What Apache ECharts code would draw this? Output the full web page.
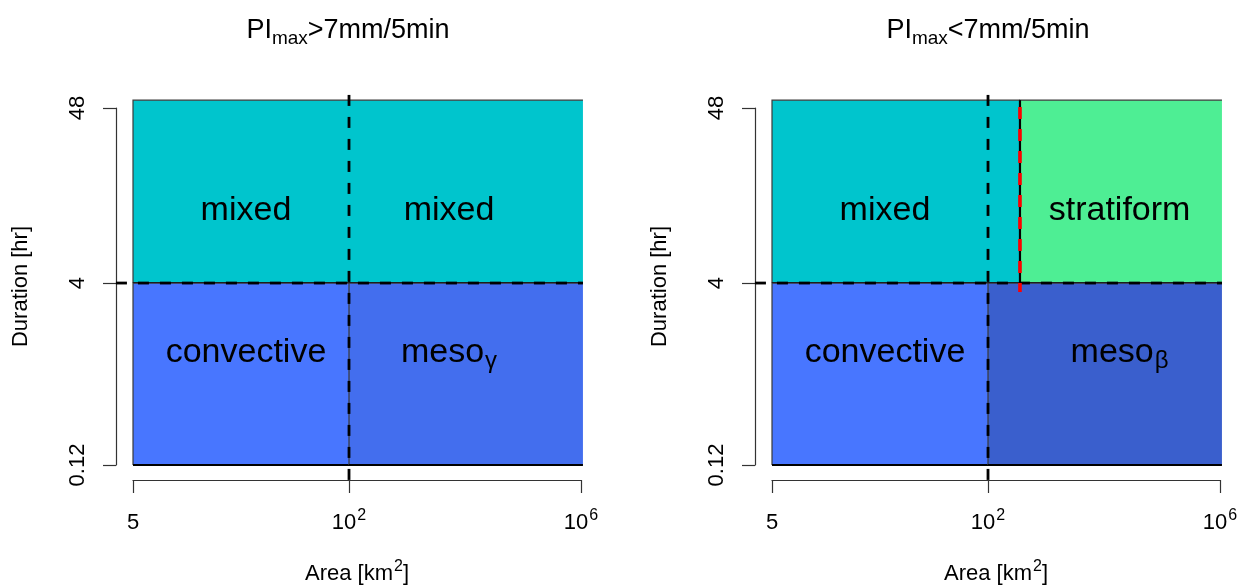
<!DOCTYPE html>
<html>
<head>
<meta charset="utf-8">
<script src="https://cdn.jsdelivr.net/npm/echarts@6/dist/echarts.min.js"></script>
<style>
  html, body { margin: 0; padding: 0; background: #ffffff; }
  #chart { width: 1242px; height: 588px; }
</style>
</head>
<body>
<div id="chart"></div>
<script>
// ---- scales: tick values on the index-like area and duration axes ----
const xTickValues = [0, 1, 2.074];
const xTickLabels = ['5', '10^2', '10^6'];
const yTickValues = [0, 1, 1.962];
const yTickLabels = ['0.12', '4', '48'];

// plot region (axis units) that the reference lines span
const usrX = [-0.079, 2.083];
const usrY = [-0.082, 2.077];

// class boxes: [class, x0, x1, y0, y1]
const boxesHigh = [
  ['mixed', 0, 2.083, 1, 2.005],
  ['convective', 0, 1, 0, 1],
  ['mesoGamma', 1, 2.083, 0, 1]
];
const boxesLow = [
  ['mixed', 0, 1.148, 1, 2.005],
  ['stratiform', 1.148, 2.083, 1, 2.005],
  ['convective', 0, 1, 0, 1],
  ['mesoBeta', 1, 2.083, 0, 1]
];

// class names: [main text, subscript, x, y]
const labelsHigh = [
  ['mixed', '', 0.523, 1.40],
  ['mixed', '', 1.463, 1.40],
  ['convective', '', 0.523, 0.615],
  ['meso', 'γ', 1.463, 0.615]
];
const labelsLow = [
  ['mixed', '', 0.523, 1.40],
  ['stratiform', '', 1.609, 1.40],
  ['convective', '', 0.523, 0.615],
  ['meso', 'β', 1.609, 0.615]
];

// thresholds: area 10^2 km2 and duration 4 h
const areaThreshold = 1;
const durationThreshold = 1;
// extra area split for the low-intensity panel: [x, y from, y to]
const stratiformSplit = [1.148, 0.951, 2.022];

// panel titles: [before, subscript, after]
const titles = [['PI', 'max', '>7mm/5min'], ['PI', 'max', '<7mm/5min']];

// ---- styling ----
const FONT = '"Liberation Sans", Arial, Helvetica, sans-serif';
const classColors = {
  mixed: '#00C5CD',
  convective: '#4876FF',
  mesoGamma: '#436EEE',
  mesoBeta: '#3A5FCD',
  stratiform: '#4EEE94'
};
const gridLefts = [133, 772];

const chart = echarts.init(document.getElementById('chart'), null, { renderer: 'canvas' });

function tickText(s) {
  const parts = s.split('^');
  return parts.length > 1 ? '{n|' + parts[0] + '}{s|' + parts[1] + '}' : '{n|' + s + '}';
}

// superscript: shifted up by half of the bottom padding
const supRich = {
  n: { fontSize: 22, fontFamily: FONT, color: '#000', lineHeight: 22 },
  s: { fontSize: 16, fontFamily: FONT, color: '#000', lineHeight: 4, padding: [0, 0, 14, 1] }
};

function boxSeries(idx, boxes) {
  return {
    type: 'custom', xAxisIndex: idx, yAxisIndex: idx, clip: false, silent: true, z: 1,
    encode: { x: [0, 1], y: [2, 3] },
    data: boxes.map(b => [b[1], b[2], b[3], b[4]]),
    renderItem(params, api) {
      const cls = boxes[params.dataIndex][0];
      const tl = api.coord([api.value(0), api.value(3)]);
      const br = api.coord([api.value(1), api.value(2)]);
      return {
        type: 'group',
        children: [
          { type: 'rect', shape: { x: tl[0], y: tl[1], width: br[0] - tl[0], height: br[1] - tl[1] },
            style: { fill: classColors[cls] } },
          { type: 'polyline', shape: { points: [[br[0], tl[1]], [tl[0], tl[1]], [tl[0], br[1]]] },
            style: { stroke: '#3a3a3a', lineWidth: 1.2, fill: null } },
          { type: 'line', shape: { x1: tl[0], y1: br[1], x2: br[0], y2: br[1] },
            style: { stroke: '#000', lineWidth: 2 } }
        ]
      };
    }
  };
}

function lineSeries(idx, segs) {
  // segs: [x1, y1, x2, y2, kind]
  return {
    type: 'custom', xAxisIndex: idx, yAxisIndex: idx, clip: false, silent: true, z: 3,
    encode: { x: [0, 2], y: [1, 3] },
    data: segs.map(s => [s[0], s[1], s[2], s[3]]),
    renderItem(params, api) {
      const kind = segs[params.dataIndex][4];
      const a = api.coord([api.value(0), api.value(1)]);
      const b = api.coord([api.value(2), api.value(3)]);
      let style;
      if (kind === 'dash') style = { stroke: '#000', lineWidth: 2.8, lineDash: [11, 11] };
      else if (kind === 'solid') style = { stroke: '#000', lineWidth: 2.2 };
      else style = { stroke: '#ff0000', lineWidth: 3.6, lineDash: [12, 10], lineDashOffset: 3 };
      return { type: 'line', shape: { x1: a[0], y1: a[1], x2: b[0], y2: b[1] }, style };
    }
  };
}

function labelSeries(idx, labels) {
  return {
    type: 'custom', xAxisIndex: idx, yAxisIndex: idx, clip: false, silent: true, z: 5,
    encode: { x: 0, y: 1 },
    data: labels.map(l => [l[2], l[3]]),
    renderItem(params, api) {
      const l = labels[params.dataIndex];
      const p = api.coord([api.value(0), api.value(1)]);
      const text = '{m|' + l[0] + '}' + (l[1] ? '{s|' + l[1] + '}' : '');
      return {
        type: 'text', x: p[0], y: p[1],
        style: {
          text, align: 'center', verticalAlign: 'middle', fill: '#000',
          rich: {
            m: { fontSize: 34, fontFamily: FONT, lineHeight: 34, fill: '#000' },
            // subscript: shifted down by half of the top padding
            s: { fontSize: 24, fontFamily: FONT, lineHeight: 4, padding: [16, 0, 0, 1], fill: '#000' }
          }
        }
      };
    }
  };
}

const xAxes = [0, 1].map(i => ({
  type: 'value', gridIndex: i, min: xTickValues[0], max: xTickValues[xTickValues.length - 1],
  offset: 15,
  axisLine: { show: true, onZero: false, lineStyle: { color: '#333', width: 1.2 } },
  axisTick: { show: true, length: 13, customValues: xTickValues, lineStyle: { color: '#333', width: 1.2 } },
  splitLine: { show: false },
  axisLabel: {
    customValues: xTickValues, margin: 32,
    formatter: v => tickText(xTickLabels[xTickValues.indexOf(v)] || ''),
    rich: supRich
  },
  name: '{n|Area [km}{s|2}{n|]}', nameLocation: 'middle', nameGap: 83,
  nameTextStyle: { rich: supRich }
}));

const yAxes = [0, 1].map(i => ({
  type: 'value', gridIndex: i, min: yTickValues[0], max: yTickValues[yTickValues.length - 1],
  offset: 17,
  axisLine: { show: true, onZero: false, lineStyle: { color: '#333', width: 1.2 } },
  axisTick: { show: true, length: 13, customValues: yTickValues, lineStyle: { color: '#333', width: 1.2 } },
  splitLine: { show: false },
  axisLabel: {
    customValues: yTickValues, rotate: 90, margin: 27,
    formatter: v => yTickLabels[yTickValues.indexOf(v)] || '',
    fontSize: 22, fontFamily: FONT, color: '#000'
  },
  name: 'Duration [hr]', nameLocation: 'middle', nameGap: 84, nameRotate: 90,
  nameTextStyle: { fontSize: 22, fontFamily: FONT, color: '#000' }
}));

function segmentsFor(panel) {
  const segs = [
    [areaThreshold, usrY[0], areaThreshold, usrY[1], 'dash'],
    [usrX[0], durationThreshold, usrX[1], durationThreshold, 'dash']
  ];
  if (panel === 1) {
    segs.push([stratiformSplit[0], durationThreshold, stratiformSplit[0], 2.005, 'solid']);
    segs.push([stratiformSplit[0], stratiformSplit[1], stratiformSplit[0], stratiformSplit[2], 'red']);
  }
  return segs;
}

const titleCenters = [348, 988];
const graphics = titles.map((t, i) => ({
  type: 'text', x: titleCenters[i], y: 31,
  style: {
    text: '{a|' + t[0] + '}{b|' + t[1] + '}{a|' + t[2] + '}',
    align: 'center', verticalAlign: 'middle',
    rich: {
      a: { fontSize: 27, fontFamily: FONT, lineHeight: 27, fill: '#000' },
      b: { fontSize: 19, fontFamily: FONT, lineHeight: 4, padding: [15, 0, 0, 0], fill: '#000' }
    }
  }
}));

chart.setOption({
  animation: false,
  backgroundColor: '#ffffff',
  grid: gridLefts.map(l => ({
    left: l, top: 108, width: 448, height: 357,
    containLabel: false, outerBoundsMode: 'none'
  })),
  xAxis: xAxes,
  yAxis: yAxes,
  graphic: graphics,
  series: [
    boxSeries(0, boxesHigh), boxSeries(1, boxesLow),
    lineSeries(0, segmentsFor(0)), lineSeries(1, segmentsFor(1)),
    labelSeries(0, labelsHigh), labelSeries(1, labelsLow)
  ]
});
</script>
</body>
</html>
